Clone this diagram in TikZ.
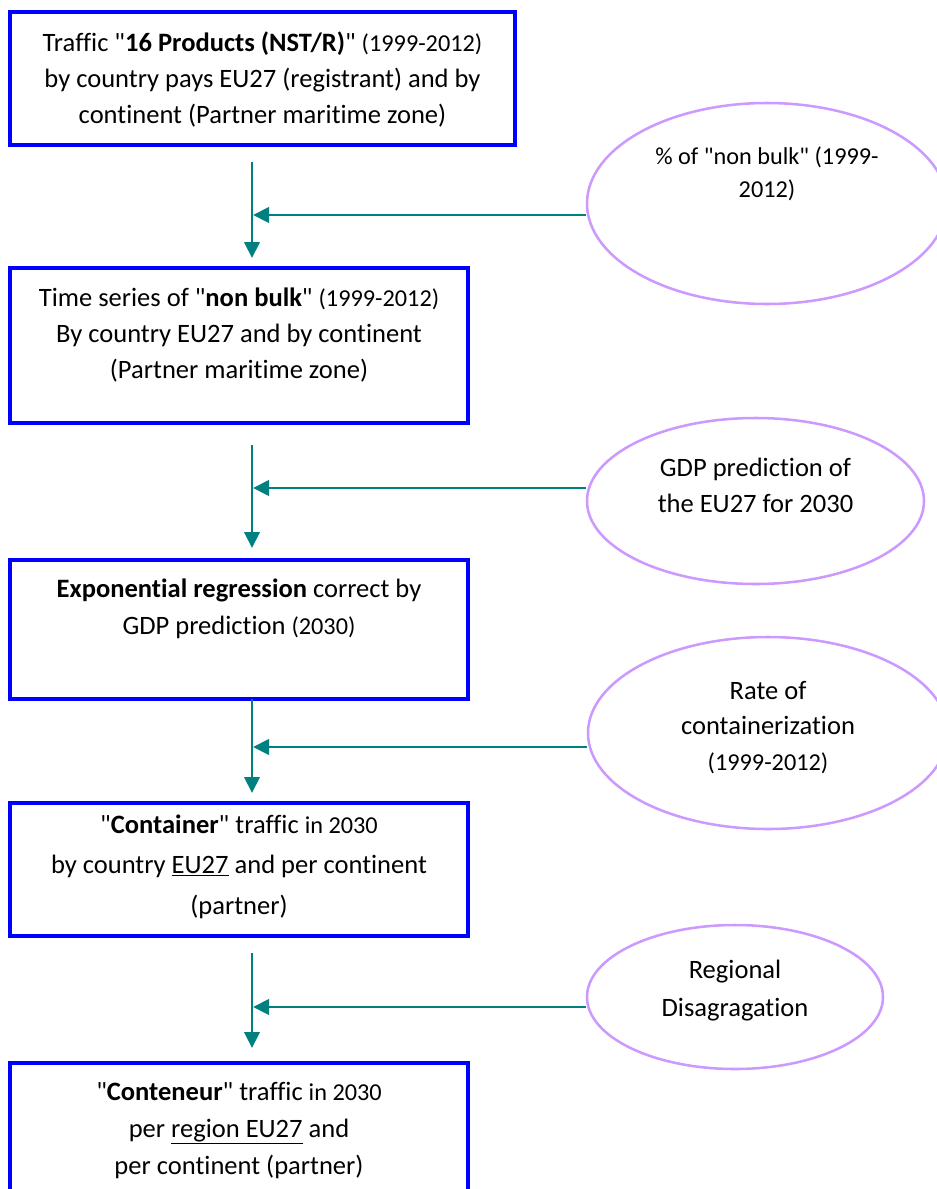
\documentclass[tikz,border=0pt]{standalone}
\usepackage{fontspec}
\setmainfont{Carlito}[Ligatures={NoCommon}]
\usetikzlibrary{shapes.geometric,arrows.meta}
\definecolor{flowteal}{RGB}{0,128,128}
\definecolor{boxblue}{RGB}{0,0,255}
\definecolor{ovalpurple}{RGB}{204,153,255}
% straight double quote
\newcommand\dq{\textquotedbl}
% smaller size for the year ranges, keeping the current line spacing
\newcommand\sm[1]{{\fontsize{18.2pt}{\baselineskip}\selectfont #1}}
\newcommand\mainsize[1]{\fontsize{19.9pt}{#1}\selectfont}

\begin{document}
\begin{tikzpicture}[x=0.75pt,y=-0.75pt,
  stepbox/.style={draw=boxblue, line width=2.6pt, rectangle, inner sep=0pt},
  oval/.style={draw=ovalpurple, line width=1.9pt, ellipse, inner sep=0pt},
  txt/.style={align=center, inner sep=0pt, text=black},
  flow/.style={draw=flowteal, line width=2.2pt, -{Triangle[length=12pt,width=11.5pt]}}]

\useasboundingbox (0,0) rectangle (937,1189);

% process boxes
\node[stepbox, minimum width={505*0.75pt}, minimum height={133*0.75pt}] (b1) at (262.5,78.5) {};
\node[stepbox, minimum width={458*0.75pt}, minimum height={155*0.75pt}] (b2) at (239,345.5) {};
\node[stepbox, minimum width={458*0.75pt}, minimum height={139*0.75pt}] (b3) at (239,629.5) {};
\node[stepbox, minimum width={458*0.75pt}, minimum height={133*0.75pt}] (b4) at (239,869.5) {};
\node[stepbox, minimum width={458*0.75pt}, minimum height={150*0.75pt}] (b5) at (239,1138) {};

\node[txt, font=\mainsize{27pt}] (t1) at (262.5,79)
  {Traffic \dq\textbf{16 Products (NST/R)}\dq{} \sm{(1999-2012)}\\
   by country pays EU27 (registrant) and by\\
   continent (Partner maritime zone)};
\node[txt, font=\mainsize{27pt}] (t2) at (239,335)
  {Time series of \dq\textbf{non bulk}\dq{} \sm{(1999-2012)}\\
   By country EU27 and by continent\\
   (Partner maritime zone)};
\node[txt, font=\mainsize{27.5pt}] (t3) at (239,608.5)
  {\textbf{Exponential regression} correct by\\
   GDP prediction \sm{(2030)}};
\node[txt, font=\mainsize{30.5pt}] (t4) at (239,866.5)
  {\dq\textbf{Container}\dq{} traffic \sm{in 2030}\\
   by country \underline{EU27} and per continent\\
   (partner)};
\node[txt, font=\mainsize{27.75pt}] (t5) at (239,1130)
  {\dq\textbf{Conteneur}\dq{} traffic \sm{in 2030}\\
   per \underline{region EU27} and\\
   per continent (partner)};

% input ovals
\node[oval, minimum width={360*0.75pt}, minimum height={201*0.75pt}] (e1) at (767,203.5) {};
\node[oval, minimum width={337*0.75pt}, minimum height={166*0.75pt}] (e2) at (755.5,501) {};
\node[oval, minimum width={360*0.75pt}, minimum height={192*0.75pt}] (e3) at (768,733) {};
\node[oval, minimum width={296*0.75pt}, minimum height={144*0.75pt}] (e4) at (735,997) {};

\node[txt, font={\fontsize{18.2pt}{24.75pt}\selectfont}] (u1) at (767,173.5)
  {\% of \dq{}non bulk\dq{} (1999-\\2012)};
\node[txt, font=\mainsize{27pt}] (u2) at (755.5,485)
  {GDP prediction of\\the EU27 for 2030};
\node[txt, font=\mainsize{26.5pt}] (u3) at (768,727.5)
  {Rate of\\containerization\\\sm{(1999-2012)}};
\node[txt, font=\mainsize{28.5pt}] (u4) at (735,991)
  {Regional\\Disagragation};

% flow arrows between the steps
\coordinate (s1) at (252,162);  \coordinate (d1) at (252,258);
\coordinate (s2) at (252,445);  \coordinate (d2) at (252,548);
\coordinate (s3) at (252,699);  \coordinate (d3) at (252,793);
\coordinate (s4) at (252,953);  \coordinate (d4) at (252,1048);
\draw[flow] (s1) -- (d1);
\draw[flow] (s2) -- (d2);
\draw[flow] (s3) -- (d3);
\draw[flow] (s4) -- (d4);

% joining arrows from the ovals
\coordinate (j1) at (253,215);
\coordinate (j2) at (253,488);
\coordinate (j3) at (253,747);
\coordinate (j4) at (253,1007);
\draw[flow] (e1.west |- j1) -- (j1);
\draw[flow] (e2.west |- j2) -- (j2);
\draw[flow] (e3.west |- j3) -- (j3);
\draw[flow] (e4.west |- j4) -- (j4);
\end{tikzpicture}
\end{document}
